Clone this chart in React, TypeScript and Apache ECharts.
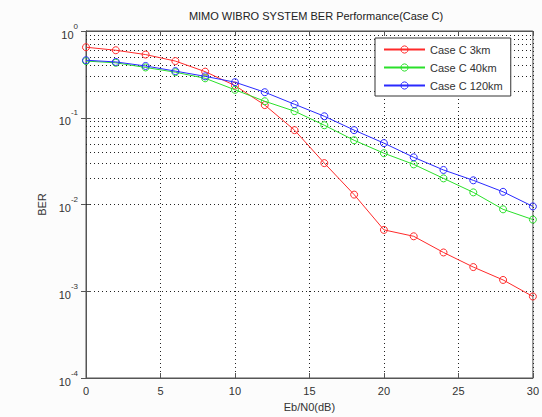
import React, { useEffect, useRef } from "react";
import * as echarts from "echarts";

const ebn0 = [0, 2, 4, 6, 8, 10, 12, 14, 16, 18, 20, 22, 24, 26, 28, 30];
const ber3km = [0.65, 0.6, 0.535, 0.45, 0.34, 0.235, 0.14, 0.072, 0.03, 0.013, 0.0051, 0.0043, 0.0028, 0.0019, 0.00135, 0.00087];
const ber40km = [0.45, 0.43, 0.38, 0.335, 0.285, 0.21, 0.155, 0.119, 0.082, 0.055, 0.039, 0.029, 0.02, 0.0138, 0.0088, 0.0067];
const ber120km = [0.46, 0.44, 0.395, 0.345, 0.3, 0.257, 0.197, 0.143, 0.104, 0.072, 0.051, 0.035, 0.025, 0.019, 0.014, 0.0095];
const seriesNames = ["Case C 3km", "Case C 40km", "Case C 120km"];
const seriesColors = ["#ff2a2a", "#2ae02a", "#2a2aff"];
const decades = [1e-4, 1e-3, 1e-2, 1e-1];
const minorMultipliers = [2, 3, 4, 5, 6, 7, 8, 9];
const titleText = "MIMO WIBRO SYSTEM BER Performance(Case C)";
const xName = "Eb/N0(dB)";
const yName = "BER";

export default function App() {
  const ref = useRef<HTMLDivElement>(null);
  useEffect(() => {
    if (!ref.current) return;
    const chart = echarts.init(ref.current, null, { renderer: "svg" });
    const font = "Liberation Sans, Arial, sans-serif";
    const textColor = "#333";
    const gridLine = { color: "#222", width: 1, type: [1, 3] as any };
    const minorValues: number[] = [];
    decades.forEach((d) => minorMultipliers.forEach((m) => minorValues.push(d * m)));
    const allData = [ber3km, ber40km, ber120km];
    const series: any[] = allData.map((arr, i) => ({
      name: seriesNames[i],
      type: "line",
      data: ebn0.map((x, j) => [x, arr[j]]),
      symbol: "circle",
      symbolSize: 7,
      color: seriesColors[i],
      lineStyle: { width: 1, color: seriesColors[i] },
      itemStyle: { color: "rgba(0,0,0,0)", borderColor: seriesColors[i], borderWidth: 1 },
      emphasis: { disabled: true },
      z: 5 + i,
    }));
    series[0].markLine = {
      silent: true,
      symbol: ["none", "none"],
      label: { show: false },
      lineStyle: gridLine,
      emphasis: { disabled: true },
      z: 1,
      data: minorValues.map((v) => ({ yAxis: v })),
    };
    const expFormatter = (v: number) => {
      const e = Math.round(Math.log10(v));
      return `{b|10}{e|${e}}`;
    };
    chart.setOption({
      animation: false,
      backgroundColor: "#fcfcfc",
      textStyle: { fontFamily: font },
      title: {
        text: titleText,
        left: 311,
        textAlign: "center",
        top: 5,
        textStyle: { fontSize: 11, fontWeight: "normal", color: "#222", fontFamily: font },
      },
      legend: {
        orient: "vertical",
        left: 375,
        top: 38,
        backgroundColor: "#fff",
        borderColor: "#333",
        borderWidth: 1,
        padding: [6, 8, 5, 8],
        itemWidth: 41,
        itemHeight: 9,
        itemGap: 7,
        itemStyle: { borderWidth: 1 },
        textStyle: { fontSize: 11, color: textColor, fontFamily: font },
        data: seriesNames,
      },
      grid: {
        left: 86,
        right: 7,
        top: 31,
        bottom: 39,
        show: true,
        backgroundColor: "#fff",
        borderColor: "#555",
        borderWidth: 1,
      },
      xAxis: [
        {
          type: "value",
          min: 0,
          max: 30,
          interval: 5,
          name: xName,
          nameLocation: "middle",
          nameGap: 23,
          nameTextStyle: { fontSize: 11, color: textColor },
          axisLine: { show: true, lineStyle: { color: "#555" } },
          axisTick: { inside: true, length: 5, lineStyle: { color: "#555" } },
          axisLabel: { fontSize: 11, color: textColor, margin: 7 },
          splitLine: { show: true, lineStyle: gridLine },
        },
        {
          type: "value",
          position: "top",
          min: 0,
          max: 30,
          interval: 5,
          axisLine: { show: true, lineStyle: { color: "#555" } },
          axisTick: { inside: true, length: 5, lineStyle: { color: "#555" } },
          axisLabel: { show: false },
          splitLine: { show: false },
        },
      ],
      yAxis: [
        {
          type: "log",
          logBase: 10,
          min: 1e-4,
          max: 1,
          name: yName,
          nameLocation: "middle",
          nameGap: 38,
          nameTextStyle: { fontSize: 11, color: textColor },
          axisLine: { show: true, lineStyle: { color: "#555" } },
          axisTick: { inside: true, length: 5, lineStyle: { color: "#555" } },
          axisLabel: {
            margin: 8,
            formatter: expFormatter,
            rich: {
              b: { fontSize: 11, color: textColor, lineHeight: 18, verticalAlign: "bottom", fontFamily: font },
              e: { fontSize: 8, color: textColor, verticalAlign: "top", fontFamily: font },
            },
          },
          splitLine: { show: true, lineStyle: gridLine },
        },
        {
          type: "log",
          logBase: 10,
          min: 1e-4,
          max: 1,
          position: "right",
          axisLine: { show: true, lineStyle: { color: "#555" } },
          axisTick: { inside: true, length: 5, lineStyle: { color: "#555" } },
          axisLabel: { show: false },
          splitLine: { show: false },
        },
      ],
      series,
    });
    return () => chart.dispose();
  }, []);
  return (
    <div
      ref={ref}
      style={{ position: "fixed", left: 0, top: 0, width: 542, height: 417 }}
    />
  );
}
